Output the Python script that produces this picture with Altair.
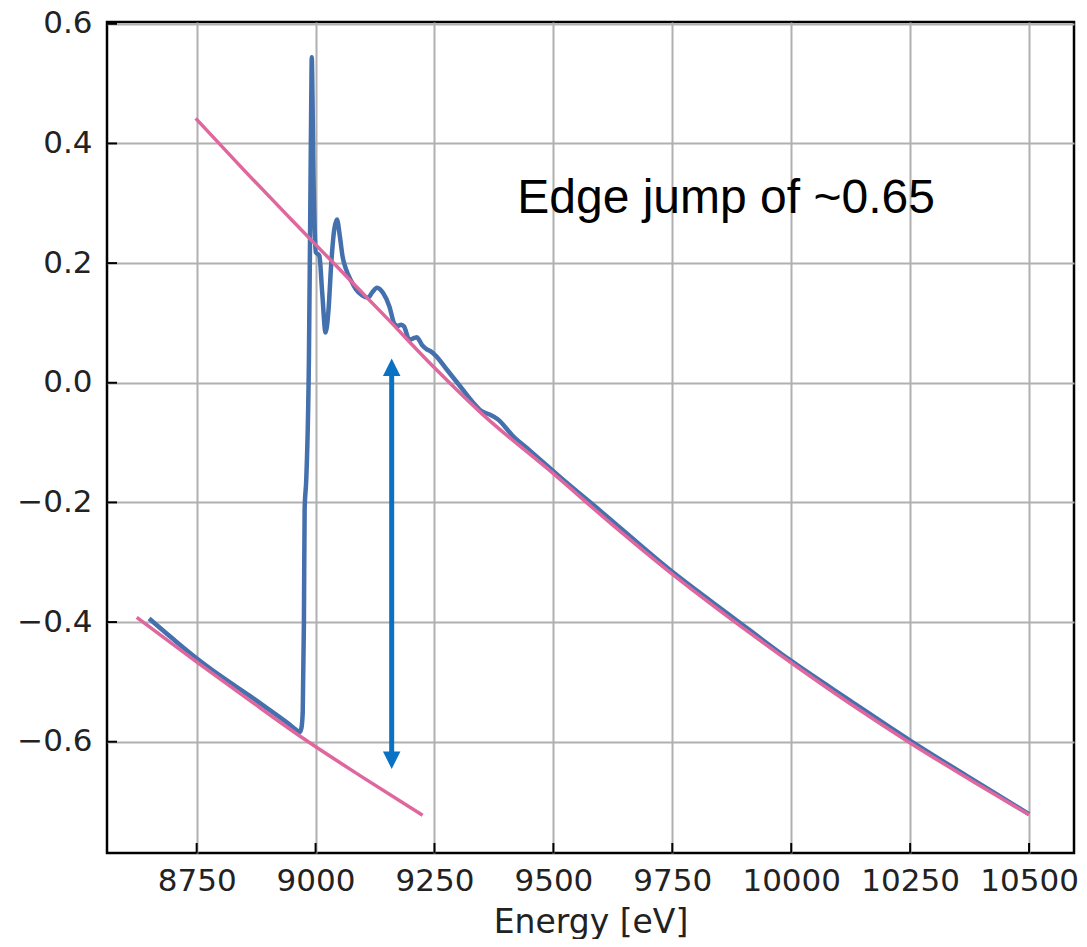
import altair as alt
import pandas as pd

# ---- measured spectrum (blue) ----
energy = [8650, 8700, 8749, 8800, 8861, 8900, 8940, 8959, 8966, 8970, 8973, 8975.5,
          8977, 8980.5, 8986, 8989, 8991, 8992, 8993.5, 8995.5, 8998, 9000.5, 9005,
          9008, 9014, 9021, 9027, 9033, 9039, 9045, 9051, 9057, 9064, 9075, 9085,
          9098, 9110, 9120, 9129, 9142, 9155, 9166, 9173, 9180, 9186, 9197, 9208,
          9213, 9218, 9225, 9232, 9243, 9253, 9275, 9303, 9331, 9350, 9366, 9383,
          9415, 9450, 9513, 9600, 9750, 9875, 10000, 10125, 10250, 10375, 10500]
absorb = [-0.394, -0.428, -0.460, -0.490, -0.523, -0.545, -0.568, -0.580, -0.584, -0.578,
          -0.551, -0.400, -0.212, -0.160, 0.040, 0.300, 0.480, 0.544, 0.480, 0.350,
          0.260, 0.218, 0.215, 0.212, 0.150, 0.084, 0.120, 0.200, 0.255, 0.273,
          0.245, 0.210, 0.190, 0.170, 0.156, 0.146, 0.142, 0.152, 0.159, 0.150,
          0.128, 0.098, 0.095, 0.097, 0.094, 0.072, 0.075, 0.076, 0.071, 0.062,
          0.057, 0.052, 0.045, 0.023, -0.005, -0.033, -0.048, -0.053, -0.061,
          -0.089, -0.113, -0.157, -0.215, -0.316, -0.391, -0.465, -0.532, -0.598,
          -0.660, -0.721]

# ---- post-edge fit (pink) ----
post_E = [8748, 8850, 8950, 9050, 9150, 9250, 9350, 9500, 9625, 9750, 9875, 10000,
          10125, 10250, 10375, 10500]
post_mu = [0.442, 0.355, 0.272, 0.190, 0.108, 0.025, -0.052, -0.152, -0.238, -0.320,
           -0.396, -0.468, -0.537, -0.602, -0.663, -0.722]

# ---- pre-edge fit (pink) ----
pre_E = [8624, 8749, 8860, 8966, 9100, 9225]
pre_mu = [-0.392, -0.466, -0.530, -0.590, -0.660, -0.723]

# ---- edge-jump arrow and label ----
arrow_E = [9160]
arrow_from = [0.02]
arrow_to = [-0.62]
head_E = [9160, 9160]
head_mu = [0.026, -0.631]
head_dir = ["up", "down"]
label_E = [9424]
label_mu = [0.2834]
label_text = ["Edge jump of ~0.65"]

x_ticks = [8750, 9000, 9250, 9500, 9750, 10000, 10250, 10500]
y_ticks = [-0.6, -0.4, -0.2, 0.0, 0.2, 0.4, 0.6]

W, H = 967, 831
xs = alt.Scale(domain=[8561.5, 10594.5], nice=False, zero=False)
ys = alt.Scale(domain=[-0.786, 0.603], nice=False, zero=False)

xaxis = alt.Axis(values=x_ticks, format="d", title="Energy [eV]", grid=True,
                 ticks=False, tickSize=0, domain=False, labelPadding=13,
                 titlePadding=10, labelFlush=False)
yaxis = alt.Axis(values=y_ticks, format=".1f", title=None, grid=True,
                 ticks=False, tickSize=0, domain=False, labelPadding=15,
                 labelFlush=False)

X = alt.X("E:Q", scale=xs, axis=xaxis)
Y = alt.Y("mu:Q", scale=ys, axis=yaxis)

spec_df = pd.DataFrame({"E": energy, "mu": absorb})
post_df = pd.DataFrame({"E": post_E, "mu": post_mu})
pre_df = pd.DataFrame({"E": pre_E, "mu": pre_mu})
shaft_df = pd.DataFrame({"E": arrow_E, "mu": arrow_from, "mu2": arrow_to})
head_df = pd.DataFrame({"E": head_E, "mu": head_mu, "dir": head_dir})
label_df = pd.DataFrame({"E": label_E, "mu": label_mu, "t": label_text})
xt_df = pd.DataFrame({"E": x_ticks})
yt_df = pd.DataFrame({"mu": y_ticks})

BLUE = "#4470AD"
PINK = "#E0669E"
ARROW = "#0A72C4"

spectrum = alt.Chart(spec_df).mark_line(
    color=BLUE, strokeWidth=4.5, interpolate="monotone", clip=True
).encode(x=X, y=Y, order="E:Q")

post = alt.Chart(post_df).mark_line(
    color=PINK, strokeWidth=3.5, interpolate="monotone", clip=True
).encode(x=X, y=Y)

pre = alt.Chart(pre_df).mark_line(
    color=PINK, strokeWidth=3.5, interpolate="monotone", clip=True
).encode(x=X, y=Y)

shaft = alt.Chart(shaft_df).mark_rule(color=ARROW, strokeWidth=5).encode(
    x=X, y=Y, y2="mu2:Q"
)

head_up = alt.Chart(head_df).transform_filter(alt.datum.dir == "up").mark_point(
    shape="M0,-1L-1,1L1,1Z", size=306, filled=True, opacity=1, color=ARROW, strokeWidth=0
).encode(x=X, y=Y)

head_down = alt.Chart(head_df).transform_filter(alt.datum.dir == "down").mark_point(
    shape="M0,1L-1,-1L1,-1Z", size=306, filled=True, opacity=1, color=ARROW, strokeWidth=0
).encode(x=X, y=Y)

label = alt.Chart(label_df).mark_text(
    font="Liberation Sans", fontSize=48, align="left", baseline="alphabetic", color="black"
).encode(x=X, y=Y, text="t:N")

xticks_in = alt.Chart(xt_df).mark_rule(color="black", strokeWidth=2).encode(
    x=X, y=alt.value(H), y2=alt.value(H - 10)
)
yticks_in = alt.Chart(yt_df).mark_rule(color="black", strokeWidth=2).encode(
    y=Y, x=alt.value(0), x2=alt.value(10)
)

chart = alt.layer(
    spectrum, post, pre, shaft, head_up, head_down, label, xticks_in, yticks_in
).properties(
    width=W, height=H,
    autosize=alt.AutoSizeParams(type="none"),
    padding={"left": 99, "top": 14, "right": 5, "bottom": 86},
    background="white",
).configure_view(
    stroke="black", strokeWidth=2.5
).configure_axis(
    labelFont="DejaVu Sans", labelFontSize=31, labelColor="#222222",
    titleFont="DejaVu Sans", titleFontSize=33, titleFontWeight="normal",
    titleColor="#222222", gridColor="#b0b0b0", gridWidth=2, gridOpacity=1
)

chart.save("out.html", embed_options={"renderer": "svg", "actions": False})
